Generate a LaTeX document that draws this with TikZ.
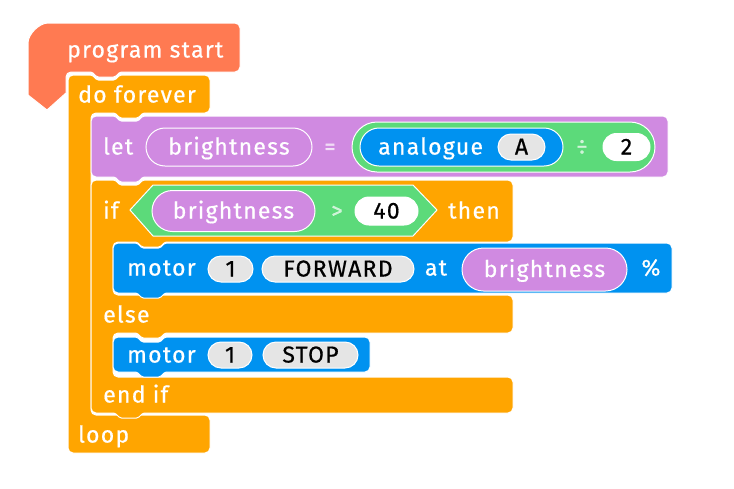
\documentclass[tikz,border=0pt]{standalone}
\usepackage{fontspec}
\newfontfamily\blockfont[LetterSpace=5.5, FakeBold=0.6]{Fira Sans}
\usetikzlibrary{shapes.misc}
\definecolor{hatred}{RGB}{255,122,82}
\definecolor{ctrlorange}{RGB}{255,165,0}
\definecolor{varpurple}{RGB}{208,138,225}
\definecolor{opgreen}{RGB}{92,218,122}
\definecolor{ioblue}{RGB}{0,146,240}
\definecolor{slotgray}{RGB}{229,229,229}
% notch in the top edge (left to right), tab under the bottom edge (right to left)
\newcommand{\topnotch}[2]{[rounded corners=1.5] -- (#1+24,#2) -- (#1+29,#2+5) -- (#1+47,#2+5) -- (#1+52,#2) [rounded corners=5]}
\newcommand{\bottomtab}[2]{[rounded corners=1.5] -- (#1+52,#2) -- (#1+47,#2+5) -- (#1+29,#2+5) -- (#1+24,#2) [rounded corners=5]}
\tikzset{
  block/.style={draw=white, line width=1pt, rounded corners=5, line join=round},
  lbl/.style={text=white, anchor=west, inner sep=0pt,
    text height=15pt, text depth=0pt, font=\blockfont\fontsize{23}{26}\selectfont},
  sym/.style={lbl, anchor=center, text opacity=0.7},
  slot/.style 2 args={lbl, anchor=center, shape=rounded rectangle, draw=white,
    line width=1pt, minimum width=#1, minimum height=#2},
}

\begin{document}
\begin{tikzpicture}[x=1pt, y=-1pt]
\useasboundingbox (0,0) rectangle (734,488);
% hat block
\path[block, fill=hatred] (28,95) -- (28,48) arc[start angle=180, end angle=270, radius=25]
  -- (240,23) -- (240,72) \bottomtab{68}{72} -- (66,72) [sharp corners] -- (66,93) -- (47,110) -- cycle;
% do forever
\path[block, fill=ctrlorange] (68,75) \topnotch{68}{75} -- (210,75) -- (210,113)
  \bottomtab{91}{113} -- (91,113) -- (91,415) -- (210,415) -- (210,453) -- (68,453) -- cycle;
% let
\path[block, fill=varpurple] (91,116) \topnotch{91}{116} -- (668,116) -- (668,177)
  \bottomtab{91}{177} -- (91,177) -- cycle;
% if / else / end if
\path[block, fill=ctrlorange] (91,180) \topnotch{91}{180} -- (513,180) -- (513,242)
  \bottomtab{113}{242} -- (113,242) -- (113,295) -- (513,295) -- (513,333)
  \bottomtab{113}{333} -- (113,333) -- (113,377) -- (513,377) -- (513,413)
  \bottomtab{91}{413} -- (91,413) -- cycle;
% motors
\path[block, fill=ioblue] (113,243) \topnotch{113}{243} -- (672,243) -- (672,293)
  \bottomtab{113}{293} -- (113,293) -- cycle;
\path[block, fill=ioblue] (113,337) \topnotch{113}{337} -- (370,337) -- (370,372)
  \bottomtab{113}{372} -- (113,372) -- cycle;
% condition
\path[draw=white, line width=1pt, fill=opgreen] (130,210) -- (153,185) -- (413,185)
  -- (437,210) -- (413,236) -- (153,236) -- cycle;

\foreach \name/\x/\y/\txt in {start/67/50/program start, forever/78/95/do forever,
    let/103/147/let, if/103/211/if, then/448/211/then,
    motorA/127/268/motor, else/103/315/else, motorB/127/355/motor,
    endif/103/395/end if, loop/78/435/loop}
  \node[lbl] (\name) at (\x,\y) {\txt};
\foreach \name/\x/\y/\txt in {eq/330/147/=, gt/337/211/>}
  \node[sym] (\name) at (\x,\y) {\txt};
\node[lbl, anchor=center] (at) at (436,268) {at};
\node[lbl, anchor=center] (pct) at (651,268) {\%};

% slots
\node[slot={166}{38}, fill=varpurple] (varA) at (229,147) {brightness};
\node[slot={303}{50}, fill=opgreen] (divide) at (503.5,147) {};
\node[slot={203}{38}, fill=ioblue] (pin) at (461.5,147) {};
\node[lbl] (analogue) at (378,147) {analogue};
\node[slot={47}{26}, fill=slotgray, text=black] (pinA) at (521.5,147) {A};
\node[sym] (div) at (582,147) {÷};
\node[slot={47}{27}, fill=white, text=black] (two) at (626.5,147) {2};
\node[slot={163}{41}, fill=varpurple] (varB) at (233.5,211) {brightness};
\node[slot={63}{28}, fill=white, text=black] (forty) at (386.5,211) {40};
\node[slot={45}{26}, fill=slotgray, text=black] (oneA) at (230.5,269) {1};
\node[slot={152}{26}, fill=slotgray, text=black] (fwd) at (338,269) {FORWARD};
\node[slot={165}{43}, fill=varpurple] (varC) at (544.5,269.5) {brightness};
\node[slot={44}{26}, fill=slotgray, text=black] (oneB) at (230,355) {1};
\node[slot={95}{26}, fill=slotgray, text=black] (stop) at (310.5,355) {STOP};
\end{tikzpicture}
\end{document}
